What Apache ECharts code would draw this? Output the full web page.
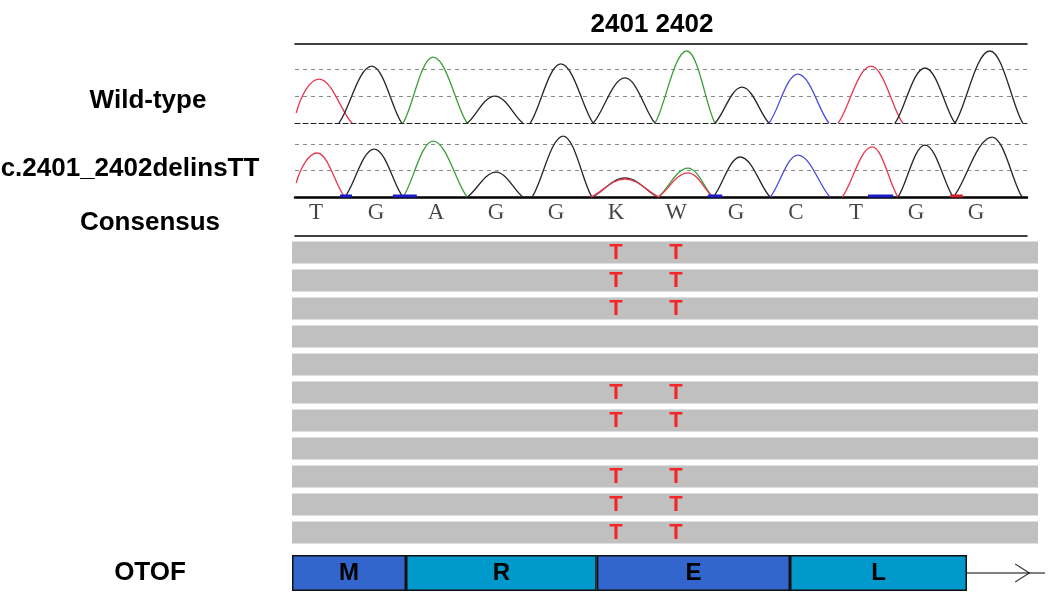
<!DOCTYPE html>
<html>
<head>
<meta charset="utf-8">
<title>OTOF c.2401_2402delinsTT</title>
<script src="https://cdn.jsdelivr.net/npm/echarts@6/dist/echarts.min.js"></script>
<style>
    html, body { margin: 0; padding: 0; background: #fff; }
    #chart { width: 1050px; height: 600px; }
</style>
</head>
<body>
<div id="chart"></div>
<script>
// consensus call at each trace position (x = 0..11)
var consensus = ['T', 'G', 'A', 'G', 'G', 'K', 'W', 'G', 'C', 'T', 'G', 'G'];

// trace peaks: [base, start, apex, end, apex height, start height]
var wildPeaks = [
    ['T', -0.33, 0.05, 0.60, 1.63, 0.37],
    ['G', 0.38, 0.93, 1.43, 2.11],
    ['A', 1.45, 1.95, 2.52, 2.44],
    ['G', 2.52, 2.98, 3.45, 1.00],
    ['G', 3.57, 4.08, 4.62, 2.19],
    ['G', 4.62, 5.15, 5.65, 1.67],
    ['A', 5.65, 6.18, 6.65, 2.67],
    ['G', 6.65, 7.10, 7.55, 1.33],
    ['C', 7.55, 8.03, 8.55, 1.81],
    ['T', 8.70, 9.25, 9.78, 2.11],
    ['G', 9.65, 10.15, 10.65, 2.04],
    ['G', 10.65, 11.23, 11.78, 2.67]
];
var mutantPeaks = [
    ['T', -0.33, 0.02, 0.48, 1.66, 0.53],
    ['G', 0.48, 0.97, 1.45, 1.81],
    ['A', 1.45, 1.95, 2.52, 2.11],
    ['G', 2.52, 3.00, 3.45, 0.94],
    ['G', 3.60, 4.12, 4.60, 2.30],
    ['G', 4.60, 5.15, 5.70, 0.72],
    ['T', 4.58, 5.15, 5.72, 0.68],
    ['A', 5.70, 6.20, 6.62, 1.09],
    ['T', 5.70, 6.20, 6.62, 0.91],
    ['G', 6.62, 7.07, 7.57, 1.51],
    ['C', 7.57, 8.03, 8.57, 1.58],
    ['T', 8.77, 9.27, 9.70, 1.89],
    ['G', 9.70, 10.15, 10.62, 1.96],
    ['G', 10.62, 11.27, 11.77, 2.26]
];
// small baseline signal in the mutant trace: [base, from, to]
var mutantNoise = [
    ['C', 0.40, 0.60],
    ['C', 1.28, 1.68],
    ['C', 6.53, 6.77],
    ['C', 9.20, 9.62],
    ['T', 10.57, 10.78]
];

// aligned reads
var readCount = 11;
var mutantReads = [1, 2, 3, 6, 7, 9, 10, 11];
var mutantPositions = [5, 6];
var mutantCall = 'T';

// OTOF codons under the trace: [amino acid, length in trace positions]
var codons = [['M', 1.90], ['R', 3.18], ['E', 3.22], ['L', 2.95]];

var baseColor = { A: '#3a9e3a', C: '#4b4be0', G: '#262626', T: '#e8384f' };
var codonColor = ['#3366cc', '#0099cc', '#3366cc', '#0099cc'];
var font = '"Liberation Sans", Arial, sans-serif';

var chart = echarts.init(document.getElementById('chart'));

// one half of a peak, from p to q, with a straight-ish flank and a round top
function half(p, q, rising, style) {
    var dx = q[0] - p[0], dy = q[1] - p[1];
    var k1 = rising ? [0.3, 0.2] : [0.4, 0];
    var k2 = rising ? [0.6, 1] : [0.7, 0.8];
    if (p.steep) k1 = [0.2, 0.5];
    return {
        type: 'bezierCurve', style: style,
        shape: {
            x1: p[0], y1: p[1],
            cpx1: p[0] + k1[0] * dx, cpy1: p[1] + k1[1] * dy,
            cpx2: p[0] + k2[0] * dx, cpy2: p[1] + k2[1] * dy,
            x2: q[0], y2: q[1]
        }
    };
}

function renderPeak(params, api) {
    var s = api.coord([api.value(0), api.value(4)]);
    var a = api.coord([api.value(1), api.value(3)]);
    var e = api.coord([api.value(2), 0]);
    s.steep = api.value(4) > 0;
    var style = { stroke: api.visual('color'), fill: 'none', lineWidth: 1.3 };
    return { type: 'group', children: [half(s, a, true, style), half(a, e, false, style)] };
}

function traceSeries(peaks, idx) {
    return {
        type: 'custom', xAxisIndex: idx, yAxisIndex: idx, silent: true, clip: false,
        renderItem: renderPeak,
        data: peaks.map(function (p) {
            return { value: [p[1], p[2], p[3], p[4], p[5] || 0], itemStyle: { color: baseColor[p[0]] } };
        })
    };
}

function hiddenValueAxis(gridIndex, min, max) {
    return {
        type: 'value', gridIndex: gridIndex, min: min, max: max,
        axisLine: { show: false }, axisTick: { show: false },
        axisLabel: { show: false }, splitLine: { show: false }
    };
}

function lineAxis(gridIndex, style, position) {
    return {
        type: 'value', gridIndex: gridIndex, min: -0.35, max: 11.85,
        position: position || 'bottom',
        axisLine: { show: true, onZero: false, lineStyle: style },
        axisTick: { show: false }, axisLabel: { show: false }, splitLine: { show: false }
    };
}

function traceYAxis(gridIndex, max) {
    return {
        type: 'value', gridIndex: gridIndex, min: 0, max: max, interval: 1,
        axisLine: { show: false }, axisTick: { show: false }, axisLabel: { show: false },
        splitLine: {
            show: true, showMinLine: false, showMaxLine: false,
            lineStyle: { color: '#8a8a8a', type: [4, 4], width: 1 }
        }
    };
}

var series = [traceSeries(wildPeaks, 0), traceSeries(mutantPeaks, 1)];

['C', 'T'].forEach(function (b) {
    var data = [];
    mutantNoise.forEach(function (n) {
        if (n[0] === b) data.push([n[1], 0.04], [n[2], 0.04], ['-', '-']);
    });
    series.push({
        type: 'line', xAxisIndex: 1, yAxisIndex: 1, data: data,
        showSymbol: false, silent: true,
        lineStyle: { color: b === 'C' ? '#1a1ac8' : '#d0202a', width: 3 }
    });
});

// consensus letters
series.push({
    type: 'scatter', xAxisIndex: 2, yAxisIndex: 2, symbolSize: 1, z: 5,
    itemStyle: { color: 'transparent' }, silent: true,
    data: consensus.map(function (c, i) { return [i, 0.62, c]; }),
    label: {
        show: true, position: 'inside', formatter: function (p) { return p.value[2]; },
        fontFamily: '"Liberation Serif", "Times New Roman", serif', fontSize: 23, color: '#151515'
    }
});

// read rows
var readData = [];
for (var r = 1; r <= readCount; r++) {
    readData.push([-0.4, r], [12.0333, r], ['-', '-']);
}
series.push({
    type: 'line', xAxisIndex: 3, yAxisIndex: 3, data: readData,
    showSymbol: false, silent: true, clip: false, z: 1,
    lineStyle: { color: '#c0c0c0', width: 22, cap: 'butt' }
});

var callData = [];
mutantReads.forEach(function (row) {
    mutantPositions.forEach(function (pos) { callData.push([pos, row, mutantCall]); });
});
series.push({
    type: 'scatter', xAxisIndex: 3, yAxisIndex: 3, symbolSize: 1, z: 5,
    itemStyle: { color: 'transparent' }, silent: true, data: callData,
    label: {
        show: true, position: 'inside', formatter: function (p) { return p.value[2]; },
        fontFamily: font, fontWeight: 'bold', fontSize: 22, color: '#ff0000'
    }
});

// OTOF codon boxes
codons.forEach(function (c, i) {
    series.push({
        type: 'bar', xAxisIndex: 4, yAxisIndex: 4, stack: 'otof', barWidth: 36,
        name: c[0], data: [c[1]], silent: true,
        itemStyle: { color: codonColor[i], borderColor: '#111', borderWidth: 1.5 },
        label: {
            show: true, position: 'inside', formatter: c[0],
            fontFamily: font, fontWeight: 'bold', fontSize: 24, color: '#000'
        }
    });
});
var geneEnd = codons.reduce(function (s, c) { return s + c[1]; }, 0);
series.push({
    type: 'line', xAxisIndex: 4, yAxisIndex: 4, showSymbol: false, silent: true,
    data: [[geneEnd, 'OTOF'], [12.55, 'OTOF']],
    lineStyle: { color: '#000', width: 1.2 }, z: 1
});
series.push({
    type: 'scatter', xAxisIndex: 4, yAxisIndex: 4, silent: true,
    symbol: 'path://M0,0L10,8L0,16', symbolSize: [14, 18],
    data: [[12.17, 'OTOF']],
    itemStyle: { color: 'transparent', borderColor: '#000', borderWidth: 1.2 }
});

function sideLabel(text, x, y) {
    return {
        type: 'text', x: x, y: y, silent: true,
        style: {
            text: text, fontFamily: font, fontWeight: 'bold', fontSize: 26,
            fill: '#000', align: 'center', verticalAlign: 'middle'
        }
    };
}

var option = {
    animation: false,
    backgroundColor: '#fff',
    grid: [
        { left: 295, width: 732, top: 44, height: 79 },
        { left: 295, width: 732, top: 130.75, height: 66.25 },
        { left: 295, width: 732, top: 199, height: 37 },
        { left: 292, width: 746, top: 238.5, height: 308 },
        { left: 292, width: 758, top: 555, height: 36 }
    ],
    xAxis: [
        lineAxis(0, { color: '#222', type: [5, 3], width: 1.2 }),
        lineAxis(1, { color: '#000', width: 2.5 }),
        lineAxis(2, { color: '#000', width: 1.5 }),
        hiddenValueAxis(3, -0.4, 12.0333),
        hiddenValueAxis(4, 0, 12.6333),
        lineAxis(0, { color: '#000', width: 1.5 }, 'top')
    ],
    yAxis: [
        traceYAxis(0, 2.93),
        traceYAxis(1, 2.5),
        hiddenValueAxis(2, 0, 1),
        {
            type: 'value', gridIndex: 3, min: 0.5, max: 11.5, inverse: true,
            axisLine: { show: false }, axisTick: { show: false },
            axisLabel: { show: false }, splitLine: { show: false }
        },
        {
            type: 'category', gridIndex: 4, data: ['OTOF'],
            axisLine: { show: false }, axisTick: { show: false }, axisLabel: { show: false }
        }
    ],
    graphic: [
        sideLabel('2401 2402', 652, 25),
        sideLabel('Wild-type', 148, 101),
        sideLabel('c.2401_2402delinsTT', 130, 169),
        sideLabel('Consensus', 150, 223),
        sideLabel('OTOF', 150, 573)
    ],
    series: series
};
chart.setOption(option);
</script>
</body>
</html>
